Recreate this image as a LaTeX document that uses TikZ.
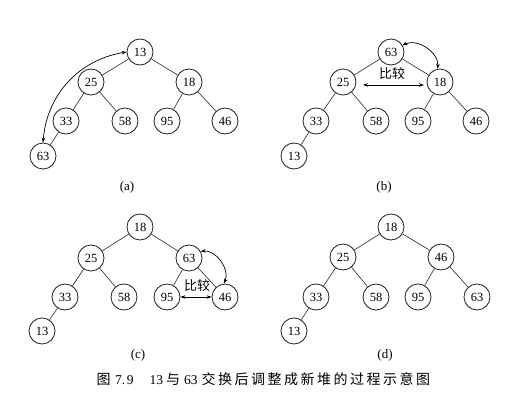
\documentclass[tikz,border=0pt]{standalone}
\usepackage{fontspec}
\setmainfont{Liberation Serif}
\newfontfamily\cjk{Noto Sans CJK SC}
\usetikzlibrary{arrows.meta}
\def\spreadchars#1{\ifx#1\relax\else#1\hspace{2.5pt}\expandafter\spreadchars\fi}
\begin{document}
\begin{tikzpicture}[x=1pt,y=-1pt,
  nd/.style={circle,draw=black!85,line width=0.85pt,minimum size=26pt,inner sep=0pt,font=\fontsize{12.5}{12.5}\selectfont},
  ed/.style={draw=black!75,line width=0.7pt},
  swaparrow/.style={line width=0.7pt,{Stealth[length=5pt,width=3.5pt]}-{Stealth[length=5pt,width=3.5pt]}},
  sublabel/.style={font=\fontsize{13}{13}\selectfont},
  cmp/.style={font=\cjk\fontsize{13}{13}\selectfont,inner sep=1pt}]
\useasboundingbox (0,0) rectangle (514,404);
% (a)
\node[nd] (a13) at (140,52) {13};
\node[nd] (a25) at (91,82) {25};
\node[nd] (a18) at (189,82) {18};
\node[nd] (a33) at (66,121) {33};
\node[nd] (a58) at (125,121) {58};
\node[nd] (a95) at (167,121) {95};
\node[nd] (a46) at (225,121) {46};
\node[nd] (a63) at (43,156) {63};
\draw[ed] (a13)--(a25) (a13)--(a18) (a25)--(a33) (a25)--(a58) (a18)--(a95) (a18)--(a46) (a33)--(a63);
\draw[swaparrow] (a13.west) to[bend right=38] (a63.north);
\node[sublabel] (la) at (127,187) {(a)};
% (b)
\node[nd] (b63) at (391,52) {63};
\node[nd] (b25) at (343,82) {25};
\node[nd] (b18) at (440,82) {18};
\node[nd] (b33) at (316,121) {33};
\node[nd] (b58) at (376,121) {58};
\node[nd] (b95) at (418,121) {95};
\node[nd] (b46) at (476,121) {46};
\node[nd] (b13) at (294,156) {13};
\draw[ed] (b63)--(b25) (b63)--(b18) (b25)--(b33) (b25)--(b58) (b18)--(b95) (b18)--(b46) (b33)--(b13);
\draw[swaparrow] (b63.30) to[bend left=60] (b18.100);
\coordinate (bl) at (363,85);
\coordinate (br) at (424,85);
\draw[swaparrow] (bl) -- (br);
\node[cmp] (bc) at (392,74) {比较};
\node[sublabel] (lb) at (384,187) {(b)};
% (c)
\node[nd] (c18) at (140,227) {18};
\node[nd] (c25) at (91,258) {25};
\node[nd] (c63) at (189,258) {63};
\node[nd] (c33) at (65,297) {33};
\node[nd] (c58) at (124,297) {58};
\node[nd] (c95) at (167,297) {95};
\node[nd] (c46) at (225,297) {46};
\node[nd] (c13) at (42,331) {13};
\draw[ed] (c18)--(c25) (c18)--(c63) (c25)--(c33) (c25)--(c58) (c63)--(c95) (c63)--(c46) (c33)--(c13);
\draw[swaparrow] (c63.30) to[bend left=60] (c46.95);
\draw[swaparrow] (c95.east) -- (c46.west);
\node[cmp] (cc) at (197,286) {比较};
\node[sublabel] (lc) at (138,355) {(c)};
% (d)
\node[nd] (d18) at (391,227) {18};
\node[nd] (d25) at (343,257) {25};
\node[nd] (d46) at (441,257) {46};
\node[nd] (d33) at (316,297) {33};
\node[nd] (d58) at (376,297) {58};
\node[nd] (d95) at (418,297) {95};
\node[nd] (d63) at (477,297) {63};
\node[nd] (d13) at (294,331) {13};
\draw[ed] (d18)--(d25) (d18)--(d46) (d25)--(d33) (d25)--(d58) (d46)--(d95) (d46)--(d63) (d33)--(d13);
\node[sublabel] (ld) at (385,355) {(d)};
% caption
\node[anchor=west,inner sep=0pt,font=\fontsize{13.5}{13.5}\selectfont] (capt) at (96.5,379)
  {{\cjk\fontsize{14}{14}\selectfont 图}\hspace{4.5pt}7.\hspace{1.5pt}9\hspace{16pt}13\hspace{3pt}{\cjk\fontsize{14}{14}\selectfont 与}\hspace{4pt}63\hspace{4pt}{\cjk\fontsize{14}{14}\selectfont\spreadchars 交换后调整成新堆的过程示意图\relax}};
\end{tikzpicture}
\end{document}
